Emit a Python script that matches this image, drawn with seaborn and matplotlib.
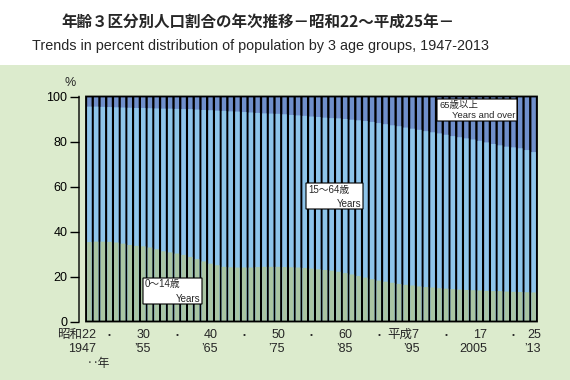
import matplotlib
matplotlib.use("Agg")
import matplotlib.pyplot as plt
from matplotlib.patches import Rectangle
import seaborn as sns
import pandas as pd
import numpy as np

# ---- data (percent of total population) ----
years = list(range(1947, 2014))
age_0_14 = [35.3, 35.5, 35.5, 35.4, 35.1, 34.6, 34.0, 33.6, 33.4, 32.9,
            32.1, 31.2, 30.7, 30.2, 29.6, 28.7, 27.7, 26.7, 25.7, 25.0,
            24.3, 24.1, 24.0, 24.0, 24.0, 24.2, 24.3, 24.3, 24.3, 24.2,
            24.1, 24.0, 23.8, 23.5, 23.2, 22.9, 22.6, 22.1, 21.5, 20.9,
            20.2, 19.5, 18.8, 18.2, 17.7, 17.2, 16.7, 16.3, 16.0, 15.6,
            15.3, 15.1, 14.8, 14.6, 14.4, 14.2, 14.0, 13.9, 13.8, 13.6,
            13.5, 13.5, 13.3, 13.2, 13.1, 13.0, 12.9]
age_65_over = [4.5, 4.5, 4.6, 4.7, 4.8, 4.9, 5.0, 5.1, 5.1, 5.2,
               5.3, 5.4, 5.4, 5.5, 5.6, 5.6, 5.8, 6.0, 6.1, 6.3,
               6.4, 6.6, 6.7, 6.9, 7.1, 7.3, 7.5, 7.6, 7.7, 7.9,
               8.2, 8.4, 8.6, 8.9, 9.1, 9.4, 9.6, 9.7, 10.0, 10.3,
               10.6, 10.9, 11.3, 11.8, 12.3, 12.8, 13.2, 13.8, 14.3, 14.8,
               15.4, 15.9, 16.4, 17.0, 17.6, 18.1, 18.6, 19.1, 19.7, 20.4,
               21.1, 21.7, 22.3, 22.6, 23.0, 23.8, 24.7]
age_15_64 = [round(100 - a - c, 1) for a, c in zip(age_0_14, age_65_over)]

row1_labels = {0: "昭和22", 8: "30", 18: "40", 28: "50", 38: "60",
               48: "平成7", 58: "17", 66: "25"}
row2_labels = {0: "1947", 8: "’55", 18: "’65", 28: "’75", 38: "’85",
               48: "’95", 58: "2005", 66: "’13"}
dot_positions = [3, 13, 23, 33, 43, 53, 63]

# ---- style ----
sns.set_style("white")
FAM = ["Liberation Sans", "Noto Sans CJK JP", "DejaVu Sans"]
plt.rcParams["font.family"] = FAM
plt.rcParams["path.snap"] = False

C_GREEN = "#A9C5A3"
C_LBLUE = "#8EC5EA"
C_DBLUE = "#6F8FCB"
C_PANEL = "#DCEBCD"

W, H = 570, 380
fig = plt.figure(figsize=(W / 100, H / 100), dpi=100)
fig.patch.set_facecolor("white")

def fx(px):
    return px / W

def fy(py):
    return 1 - py / H

# green panel
fig.add_artist(Rectangle((0, 0), 1, fy(65), transform=fig.transFigure,
                         facecolor=C_PANEL, edgecolor="none", zorder=-10))

ax_left, ax_right = 79, 537
ax_top, ax_bot = 96.5, 321.5
ax = fig.add_axes([fx(ax_left), fy(ax_bot), fx(ax_right - ax_left),
                   (ax_bot - ax_top) / H])
ax.set_facecolor("none")

df = pd.DataFrame({"year": years, "a": age_0_14, "b": age_15_64, "c": age_65_over})
df["total"] = df["a"] + df["b"] + df["c"]
df["ab"] = df["a"] + df["b"]

# black background behind bars (visible as separators)
ax.add_patch(Rectangle((-0.5, 0), 67, 100, facecolor="black", edgecolor="none", zorder=0))

bw = 0.66
sns.barplot(data=df, x="year", y="total", color=C_DBLUE, saturation=1,
            width=bw, linewidth=0, ax=ax, zorder=1)
sns.barplot(data=df, x="year", y="ab", color=C_LBLUE, saturation=1,
            width=bw, linewidth=0, ax=ax, zorder=2)
sns.barplot(data=df, x="year", y="a", color=C_GREEN, saturation=1,
            width=bw, linewidth=0, ax=ax, zorder=3)

ax.add_patch(Rectangle((-0.5, 0), 67, 100, fill=False, edgecolor="black",
                       linewidth=1.3, zorder=5, clip_on=False))

ax.set_xlim(-1.54, 66.5)
ax.set_ylim(0, 100)
ax.set_xticks([])
ax.set_xlabel("")
ax.set_ylabel("")
ax.set_yticks([0, 20, 40, 60, 80, 100])
ax.tick_params(axis="y", direction="out", length=6.5, width=1.0, pad=2,
               labelsize=9, left=True, colors="black")
for s in ["top", "right", "bottom"]:
    ax.spines[s].set_visible(False)
ax.spines["left"].set_color("black")
ax.spines["left"].set_linewidth(1.0)

# x labels
tr = ax.get_xaxis_transform()
y1 = -(335 - ax_bot) / (ax_bot - ax_top)
y2 = -(349 - ax_bot) / (ax_bot - ax_top)
for i, t in row1_labels.items():
    ax.text(i + 1.05, y1, t, transform=tr, ha="right", va="center",
            fontsize=9, family=FAM, clip_on=False)
for i, t in row2_labels.items():
    ax.text(i + 1.05, y2, t, transform=tr, ha="right", va="center",
            fontsize=9, family=FAM, clip_on=False)
for i in dot_positions:
    ax.text(i, y1, "•", transform=tr, ha="center", va="center",
            fontsize=6, family=FAM, clip_on=False)

fig.text(fx(87), fy(364), "‥年", ha="left", va="center", fontsize=8.5, family=FAM)
fig.text(fx(70), fy(83), "%", ha="center", va="center", fontsize=9, family=FAM)

# titles
fig.text(fx(258), fy(22), "年齢３区分別人口割合の年次推移－昭和22～平成25年－",
         ha="center", va="center", fontsize=11.2, fontweight="bold",
         family=["Noto Sans CJK JP", "Liberation Sans"])
fig.text(fx(260), fy(46),
         "Trends in percent distribution of population by 3 age groups, 1947-2013",
         ha="center", va="center", fontsize=10.4, family=FAM)

# label boxes
def label_box(x0, y0, x1, y1_, line1, line2, fs=7):
    fig.add_artist(Rectangle((fx(x0), fy(y1_)), fx(x1 - x0), (y1_ - y0) / H,
                             transform=fig.transFigure, facecolor="white",
                             edgecolor="black", linewidth=0.8, zorder=6))
    fig.text(fx(x0 + 2), fy(y0 + 6.5), line1, ha="left", va="center",
             fontsize=fs, family=FAM, zorder=7)
    fig.text(fx(x1 - 2), fy(y1_ - 5.5), line2, ha="right", va="center",
             fontsize=fs, family=FAM, zorder=7)

label_box(143, 278, 202, 304, "0〜14歳", "Years")
label_box(306, 183, 363, 209, "15〜64歳", "Years")
label_box(437, 99, 517, 121, "65歳以上", "Years and over", fs=6.8)

fig.savefig("out.png", dpi=100)
